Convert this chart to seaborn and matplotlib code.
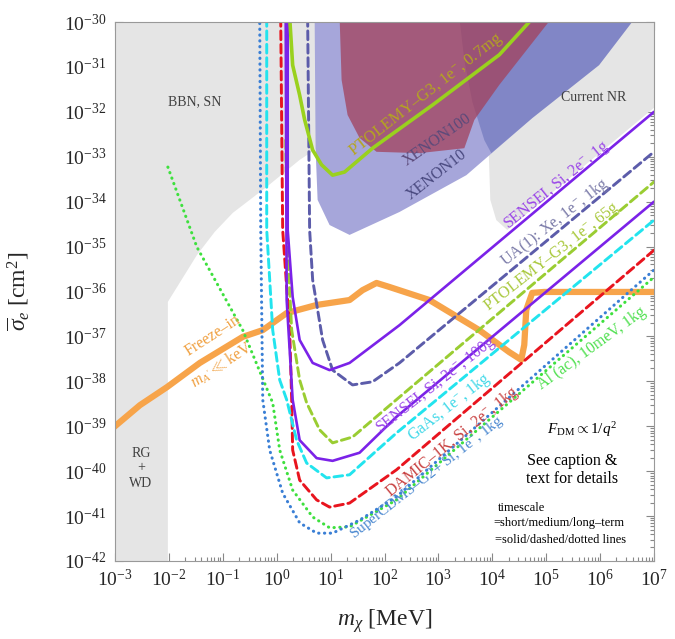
import matplotlib
matplotlib.use('Agg')

import matplotlib.pyplot as plt
from matplotlib.ticker import LogLocator, NullFormatter
import seaborn as sns
import numpy as np

sns.set_style('ticks')
plt.rcParams['font.family'] = ['Liberation Serif', 'DejaVu Serif']
plt.rcParams['mathtext.fontset'] = 'custom'
plt.rcParams['mathtext.rm'] = 'Liberation Serif'
plt.rcParams['mathtext.it'] = 'Liberation Serif:italic'
plt.rcParams['mathtext.bf'] = 'Liberation Serif:bold'

# all curves as log10(m_chi / MeV) and log10(sigma_e / cm^2)
ptolemy_mg_m = [0.241, 0.296, 0.426, 0.519, 0.667, 0.833, 1.037, 1.259, 1.778, 2.889, 4.130, 4.685, 4.9]
ptolemy_mg_s = [-29.9, -30.96, -31.63, -32.18, -32.85, -33.18, -33.41, -33.34, -32.81, -31.85, -30.73, -30.0, -29.79]

sensei_1g_m = [0.204, 0.204, 0.296, 0.426, 0.667, 0.981, 1.352, 2.278, 7.0]
sensei_1g_s = [-29.9, -34.63, -36.12, -37.08, -37.59, -37.75, -37.59, -36.75, -32.0]

sensei_100g_m = [0.167, 0.185, 0.296, 0.426, 0.741, 1.037, 1.537, 2.222, 7.0]
sensei_100g_s = [-29.9, -36.19, -38.41, -39.31, -39.71, -39.77, -39.59, -38.79, -34.0]

ua_xe_m = [0.574, 0.611, 0.667, 0.852, 1.037, 1.407, 1.778, 2.278, 7.0]
ua_xe_s = [-29.9, -34.63, -35.74, -37.08, -37.75, -38.08, -38.01, -37.59, -32.89]

ptolemy_65g_m = [0.167, 0.204, 0.278, 0.426, 0.556, 0.796, 1.037, 1.407, 2.278, 7.0]
ptolemy_65g_s = [-32.63, -35.08, -36.86, -37.97, -38.48, -39.08, -39.37, -39.24, -38.35, -33.56]

gaas_m = [-0.185, -0.185, -0.074, 0.056, 0.185, 0.370, 0.556, 0.926, 1.352, 2.222, 7.0]
gaas_s = [-29.9, -34.63, -36.86, -37.97, -38.41, -39.31, -39.82, -40.15, -40.08, -39.15, -34.41]

damic_m = [0.074, 0.111, 0.241, 0.278, 0.296, 0.426, 0.741, 0.981, 1.352, 2.222, 7.0]
damic_s = [-29.9, -34.63, -36.86, -38.41, -39.53, -40.20, -40.64, -40.80, -40.71, -39.97, -35.08]

supercdms_m = [-0.315, -0.296, -0.259, -0.130, 0.111, 0.426, 0.741, 1.037, 1.537, 2.222, 7.0]
supercdms_s = [-29.9, -34.63, -38.41, -39.53, -40.49, -41.15, -41.38, -41.38, -41.09, -40.57, -35.52]

al_ac_m = [-2.019, -1.481, -0.630, -0.074, 0.056, 0.296, 0.667, 0.981, 1.352, 2.222, 7.0]
al_ac_s = [-33.23, -35.01, -36.86, -38.48, -39.53, -40.42, -41.02, -41.26, -41.24, -40.64, -35.68]

freeze_m = [-3.05, -2.537, -2.037, -1.426, -0.630, -0.259, 0.185, 0.741, 1.352, 1.593, 1.852, 2.093,
            2.833, 3.759, 4.315, 4.537, 4.593, 4.630, 4.741, 4.963, 7.05]
freeze_s = [-39.05, -38.53, -38.13, -37.59, -37.01, -36.86, -36.48, -36.30, -36.19, -35.97, -35.81, -35.90,
            -36.19, -36.86, -37.35, -37.52, -37.19, -36.41, -36.03, -36.01, -36.01]

# excluded regions
bbn_m = [-3.1, -3.1, -2.019, -2.019, -1.481, -1.148, -0.815, -0.185, 0.426, 0.704, 0.981, 0.981]
bbn_s = [-29.9, -42.1, -42.1, -36.23, -35.19, -34.67, -34.25, -33.67, -33.07, -32.85, -32.63, -29.9]

nr_m = [3.907, 3.926, 3.963, 4.074, 4.278, 7.1, 7.1]
nr_s = [-29.9, -32.63, -33.96, -34.41, -34.63, -31.81, -29.9]

xenon10_m = [0.704, 0.722, 0.759, 0.981, 1.352, 2.278, 3.519, 4.741, 5.981, 6.593, 6.65]
xenon10_s = [-29.9, -32.85, -33.96, -34.52, -34.74, -34.23, -33.41, -32.14, -30.96, -30.0, -29.9]

xenon100_m = [3.389, 3.481, 3.630, 3.852, 3.981, 4.741, 5.981, 6.593, 6.65]
xenon100_s = [-29.9, -30.85, -31.78, -32.63, -32.92, -32.14, -30.96, -30.0, -29.9]

maroon_m = [1.167, 1.204, 1.315, 1.537, 1.852, 2.648, 3.481, 3.667, 4.130, 5.111]
maroon_s = [-29.9, -31.29, -32.07, -32.58, -32.89, -32.92, -32.81, -32.18, -31.40, -29.9]

# decades shown on the axes
x_decades = np.arange(-3, 8)
y_decades = np.arange(-42, -29)


def p(v):
    return 10.0 ** np.asarray(v, dtype=float)


fig = plt.figure(figsize=(6.75, 6.39), dpi=100)
ax = fig.add_axes([115 / 675, 1 - 561 / 639, 539 / 675, 539 / 639])
ax.set_xscale('log')
ax.set_yscale('log')

# shaded regions
ax.fill(p(bbn_m), p(bbn_s), color='#e5e5e5', lw=0, zorder=1)
ax.fill(p(nr_m), p(nr_s), color='#e5e5e5', lw=0, zorder=1)
ax.fill(p(xenon10_m), p(xenon10_s), color='#a6a6da', lw=0, zorder=2)
ax.fill(p(xenon100_m), p(xenon100_s), color='#4a58a8', alpha=0.4, lw=0, zorder=3)
ax.fill(p(maroon_m), p(maroon_s), color='#a3415b', alpha=0.75, lw=0, zorder=4)

dash = (0, (3, 1.6))
dot = (0, (0.1, 1.8))


def curve(m, s, color, lw, ls, z=6):
    sns.lineplot(x=p(m), y=p(s), sort=False, estimator=None, ax=ax, color=color,
                 lw=lw, linestyle=ls, dash_capstyle='round', zorder=z)


curve(freeze_m, freeze_s, '#f7a44a', 4.5, '-', z=5)
curve(al_ac_m, al_ac_s, '#3ee03e', 2.2, dot)
curve(supercdms_m, supercdms_s, '#3a7fd5', 2.2, dot)
curve(damic_m, damic_s, '#e8141e', 2.1, dash)
curve(gaas_m, gaas_s, '#22e4ee', 2.1, dash)
curve(ptolemy_65g_m, ptolemy_65g_s, '#9acd32', 2.1, dash)
curve(ua_xe_m, ua_xe_s, '#5c5caa', 2.1, dash)
curve(sensei_100g_m, sensei_100g_s, '#7b22e8', 1.9, '-')
curve(sensei_1g_m, sensei_1g_s, '#7b22e8', 1.9, '-')
curve(ptolemy_mg_m, ptolemy_mg_s, '#9ad11e', 2.6, '-')

ax.set_xlim(1e-3, 1e7)
ax.set_ylim(1e-42, 1e-30)

# labels on the plot
def lab(lx, ly, s, color, size=11.5, rot=0):
    ax.text(10 ** lx, 10 ** ly, s, color=color, fontsize=size, rotation=rot,
            rotation_mode='anchor', ha='center', va='center', zorder=10)


lab(2.78, -31.63, 'PTOLEMY–G3, 1e$^{-}$, 0.7mg', '#b5a520', 12, 38)
lab(2.98, -32.63, 'XENON100', '#5b4a7a', 11.5, 35)
lab(2.96, -33.41, 'XENON10', '#4a4a80', 11.5, 38)
lab(5.20, -33.63, 'SENSEI, Si, 2e$^{-}$, 1g', '#9a45e8', 11.5, 39)
lab(5.17, -34.45, 'UA(1): Xe, 1e$^{-}$, 1kg', '#7a7aa8', 11.5, 38)
lab(5.11, -35.23, 'PTOLEMY–G3, 1e$^{-}$, 65g', '#a8c83a', 11.5, 38)
lab(2.96, -38.08, 'SENSEI, Si, 2e$^{-}$, 100g', '#9a45e8', 11.5, 38)
lab(3.20, -38.57, 'GaAs, 1e$^{-}$, 1kg', '#40d8e8', 11.5, 38)
lab(3.26, -39.35, 'DAMIC–1K, Si, 2e$^{-}$, 1kg', '#c84040', 11.5, 39)
lab(2.78, -40.15, 'SuperCDMS–G2+ Si, 1e$^{-}$, 1kg', '#4a88d0', 11, 38)
lab(5.85, -37.26, 'Al (ac), 10meV, 1kg', '#50e050', 11.5, 36)
lab(-1.19, -36.97, 'Freeze–in', '#f0a040', 11.5, 33)
lab(-1.02, -37.64, "$m_{A'} \\ll$keV", '#f0a040', 11.5, 33)
lab(-1.52, -31.78, 'BBN, SN', '#404040', 10)
lab(5.89, -31.67, 'Current NR', '#404040', 10)
lab(-2.52, -39.93, 'RG\n+\nWD', '#404040', 10)
lab(5.67, -39.08, '$F_{\\rm DM}\\propto 1/q^2$', 'black', 11)
lab(5.48, -39.97, 'See caption &\ntext for details', 'black', 11.5)
lab(4.54, -40.82, 'timescale', 'black', 9)
lab(5.24, -41.15, '=short/medium/long–term', 'black', 9)
lab(5.26, -41.53, '=solid/dashed/dotted lines', 'black', 9)

# axes styling: only the decades inside the frame get labels
ax.set_xticks(p(x_decades))
ax.set_yticks(p(y_decades))
for axis in (ax.xaxis, ax.yaxis):
    axis.set_minor_locator(LogLocator(base=10, subs=np.arange(2, 10) * 1.0, numticks=200))
    axis.set_minor_formatter(NullFormatter())
ax.set_xlim(1e-3, 1e7)
ax.set_ylim(1e-42, 1e-30)
ax.tick_params(which='both', direction='in', top=True, right=True, color='#888888', width=0.8)
ax.tick_params(which='major', length=6, labelsize=14, pad=6)
ax.tick_params(which='minor', length=3)
for sp in ax.spines.values():
    sp.set_color('#999999')
    sp.set_linewidth(0.8)
    sp.set_zorder(12)

ax.set_xlabel('$m_\\chi$ [MeV]', fontsize=17)
ax.set_ylabel('$\\overline{\\sigma}_e$ [cm$^2$]', fontsize=17)
ax.xaxis.set_label_coords(0.5, -0.085)
ax.yaxis.set_label_coords(-0.155, 0.5)

plt.savefig('out.png', dpi=100)
